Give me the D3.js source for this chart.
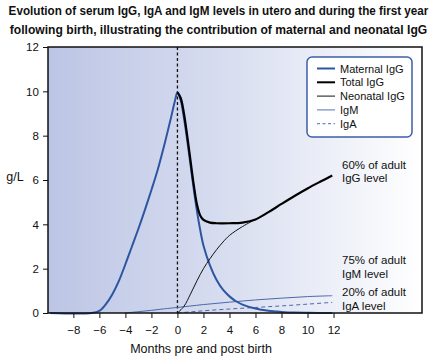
<!DOCTYPE html>
<html><head><meta charset="utf-8">
<script src="https://cdn.jsdelivr.net/npm/d3@7"></script>
<style>
html,body{margin:0;padding:0;background:#fff;}
text{font-family:"Liberation Sans",Arial,Helvetica,sans-serif;}
</style></head>
<body>
<svg id="c" width="438" height="356"></svg>
<script>
const titleLines = ["Evolution of serum IgG, IgA and IgM levels in utero and during the first year",
  "following birth, illustrating the contribution of maternal and neonatal IgG"];
const xTicks = [-8,-6,-4,-2,0,2,4,6,8,10,12];
const yTicks = [0,2,4,6,8,10,12];
const xLabel = "Months pre and post birth";
const yLabel = "g/L";

const maternalMonths = [-9.8,-6.6,-6,-5.5,-5,-4.5,-4,-3.5,-3,-2.5,-2,-1.5,-1,-0.5,-0.2,0,0.25,0.5,0.75,1,1.25,1.5,1.75,2,2.5,3,3.5,4,4.5,5,6,7,8,9,10,11.9];
const maternalIgG = [0,0,0.1,0.4,0.85,1.45,2.2,3.0,3.8,4.65,5.55,6.5,7.6,8.8,9.55,9.95,9.6,8.8,7.8,6.7,5.6,4.6,3.75,3.05,2.15,1.5,1.05,0.75,0.53,0.38,0.2,0.1,0.05,0.02,0.01,0];

const totalMonths = [0,0.25,0.5,0.75,1,1.25,1.5,1.75,2,2.5,3,4,5,6,7,8,9,10,11,11.9];
const totalIgG = [9.95,9.7,9.0,8.0,6.9,5.8,4.9,4.4,4.2,4.08,4.05,4.05,4.08,4.22,4.55,4.92,5.28,5.62,5.93,6.2];

const neonatalMonths = [0,0.5,1,1.5,2,2.5,3,3.5,4,5,6];
const neonatalIgG = [0,0.3,0.85,1.45,2.0,2.45,2.85,3.2,3.5,3.9,4.22];

const igmMonths = [-4,-3,-2,-1,0,2,4,6,8,10,11.9];
const igmValues = [0,0.06,0.12,0.19,0.25,0.38,0.49,0.59,0.67,0.74,0.78];

const igaMonths = [0,1,2,4,6,8,10,11.9];
const igaValues = [0,0.05,0.1,0.18,0.25,0.32,0.4,0.48];

const legendItems = ["Maternal IgG","Total IgG","Neonatal IgG","IgM","IgA"];
const annotations = [["60% of adult","IgG level"],["75% of adult","IgM level"],["20% of adult","IgA level"]];
const annotationValues = [6.5,2.2,0.75];

const svg = d3.select("#c");
const L=48, R=422, T=47, B=313;
const x = d3.scaleLinear().domain([-9.95,18.8]).range([L,R]);
const y = d3.scaleLinear().domain([0,12]).range([B,T]);

// background gradient
const defs = svg.append("defs");
const g = defs.append("linearGradient").attr("id","bg").attr("x1","0").attr("x2","1").attr("y1","0").attr("y2","0");
g.append("stop").attr("offset","0").attr("stop-color","#bcc5e5");
g.append("stop").attr("offset","0.45").attr("stop-color","#d6dcef");
g.append("stop").attr("offset","1").attr("stop-color","#ffffff");
svg.append("rect").attr("x",L).attr("y",T).attr("width",R-L).attr("height",B-T).attr("fill","url(#bg)");

// title (condensed horizontally to match the reference width)
titleLines.forEach((t,i)=>{
  const gt = svg.append("g");
  const tx = gt.append("text").attr("x",0).attr("y",0).attr("text-anchor","middle")
    .attr("font-size",13).attr("font-weight","bold").attr("fill","#111").text(t);
  const w = tx.node().getComputedTextLength();
  const target = i===0 ? 420 : 418;
  gt.attr("transform",`translate(218.5,${15+i*18.5}) scale(${Math.min(1,target/w)},1)`);
});

// dashed zero line
svg.append("line").attr("x1",x(0)).attr("x2",x(0)).attr("y1",T).attr("y2",B)
  .attr("stroke","#111").attr("stroke-width",1.3).attr("stroke-dasharray","3,2.5");

const line = d3.line().x(d=>x(d[0])).y(d=>y(d[1])).curve(d3.curveCatmullRom.alpha(0.5));
function series(ms,vs){return ms.map((m,i)=>[m,vs[i]]);}

svg.append("path").attr("d",line(series(igaMonths,igaValues))).attr("fill","none")
  .attr("stroke","#4a68ad").attr("stroke-width",1).attr("stroke-dasharray","4,3");
svg.append("path").attr("d",line(series(igmMonths,igmValues))).attr("fill","none")
  .attr("stroke","#4a68ad").attr("stroke-width",1);
svg.append("path").attr("d",line(series(maternalMonths,maternalIgG))).attr("fill","none")
  .attr("stroke","#2d55a0").attr("stroke-width",2);
svg.append("path").attr("d",line(series(neonatalMonths,neonatalIgG))).attr("fill","none")
  .attr("stroke","#111").attr("stroke-width",1);
svg.append("path").attr("d",line(series(totalMonths,totalIgG))).attr("fill","none")
  .attr("stroke","#000").attr("stroke-width",2.2);

// frame
svg.append("rect").attr("x",L).attr("y",T).attr("width",R-L).attr("height",B-T)
  .attr("fill","none").attr("stroke","#111").attr("stroke-width",1.5);

// axes
const xa = svg.append("g").attr("transform",`translate(0,${B})`)
  .call(d3.axisBottom(x).tickValues(xTicks).tickSize(5).tickFormat(d=>d<0?"\u2212"+Math.abs(d):d));
const ya = svg.append("g").attr("transform",`translate(${L},0)`)
  .call(d3.axisLeft(y).tickValues(yTicks).tickSize(5));
[xa,ya].forEach(a=>{
  a.select(".domain").remove();
  a.selectAll("line").attr("stroke","#111");
  a.selectAll("text").attr("font-size",11.5).attr("fill","#111").attr("font-family","Liberation Sans, Arial, sans-serif");
});
xa.selectAll("text").attr("dy","1.1em");
ya.selectAll("text").attr("dx","-0.1em");

svg.append("text").attr("x",201).attr("y",353).attr("text-anchor","middle").attr("font-size",12.5)
  .attr("fill","#111").text(xLabel);
svg.append("text").attr("x",15).attr("y",181).attr("text-anchor","middle").attr("font-size",12.5)
  .attr("fill","#111").text(yLabel);

// annotations
annotations.forEach((a,i)=>{
  const yy = y(annotationValues[i]);
  a.forEach((t,j)=>svg.append("text").attr("x",342).attr("y",yy+j*13.5).attr("font-size",11.5)
    .attr("fill","#111").text(t));
});

// legend
const lg = svg.append("g");
lg.append("rect").attr("x",307).attr("y",57).attr("width",105).attr("height",80).attr("rx",5)
  .attr("fill","#fff").attr("stroke","#3d5ea8").attr("stroke-width",1.5);
const styles = [
  {c:"#2d55a0",w:2,d:null},{c:"#000",w:2,d:null},{c:"#111",w:1,d:null},
  {c:"#6f8ac2",w:1.2,d:null},{c:"#6f8ac2",w:1.2,d:"3,2.5"}];
legendItems.forEach((t,i)=>{
  const yy = 68.5 + i*13.8;
  lg.append("line").attr("x1",317).attr("x2",335).attr("y1",yy).attr("y2",yy)
    .attr("stroke",styles[i].c).attr("stroke-width",styles[i].w).attr("stroke-dasharray",styles[i].d);
  lg.append("text").attr("x",340).attr("y",yy+4).attr("font-size",11).attr("fill","#111").text(t);
});
</script>
</body></html>
